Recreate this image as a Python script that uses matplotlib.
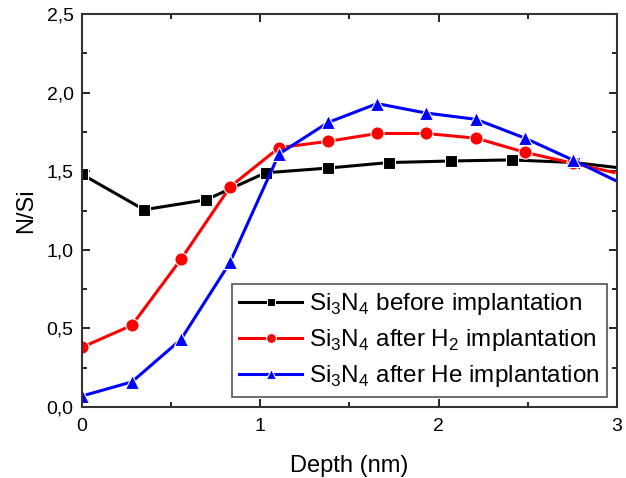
import numpy as np
import matplotlib.pyplot as plt
from matplotlib.ticker import MultipleLocator, FuncFormatter

plt.rcParams['font.family'] = ['Liberation Sans', 'DejaVu Sans']
plt.rcParams['mathtext.fontset'] = 'custom'
plt.rcParams['mathtext.rm'] = 'Liberation Sans'

# Si3N4 before implantation
x_before = [0.0, 0.348, 0.695, 1.03, 1.38, 1.72, 2.07, 2.41, 2.76, 3.10]
y_before = [1.48, 1.255, 1.318, 1.49, 1.52, 1.555, 1.565, 1.572, 1.555, 1.51]

# Si3N4 after H2 implantation
x_h2 = [0.0, 0.28, 0.555, 0.83, 1.105, 1.38, 1.655, 1.93, 2.21, 2.485, 2.755, 3.03]
y_h2 = [0.38, 0.52, 0.94, 1.40, 1.65, 1.69, 1.74, 1.74, 1.71, 1.62, 1.55, 1.48]

# Si3N4 after He implantation
x_he = [0.0, 0.28, 0.555, 0.83, 1.105, 1.38, 1.655, 1.93, 2.21, 2.485, 2.755, 3.03]
y_he = [0.07, 0.16, 0.43, 0.92, 1.61, 1.81, 1.93, 1.87, 1.83, 1.71, 1.57, 1.42]

labels = [r'Si$_3$N$_4$ before implantation',
          r'Si$_3$N$_4$ after H$_2$ implantation',
          r'Si$_3$N$_4$ after He implantation']

fig = plt.figure(figsize=(6.26, 4.78), dpi=100)
ax = fig.add_axes([0.131, 0.1485, 0.8546, 0.8222])

ax.plot(x_before, y_before, '-s', color='black', lw=2.2, ms=8.5, mec='white', mew=0.8, label=labels[0])
ax.plot(x_h2, y_h2, '-o', color='red', lw=2.2, ms=9.5, mec='white', mew=0.8, label=labels[1])
ax.plot(x_he, y_he, '-^', color='blue', lw=2.2, ms=10.5, mec='white', mew=0.8, label=labels[2])

ax.set_xlim(0, 3)
ax.set_ylim(0, 2.5)
ax.xaxis.set_major_locator(MultipleLocator(1))
ax.xaxis.set_minor_locator(MultipleLocator(0.5))
ax.yaxis.set_major_locator(MultipleLocator(0.5))
ax.yaxis.set_minor_locator(MultipleLocator(0.25))
ax.yaxis.set_major_formatter(FuncFormatter(lambda v, p: f'{v:.1f}'.replace('.', ',')))
ax.xaxis.set_major_formatter(FuncFormatter(lambda v, p: f'{v:g}'))
ax.tick_params(which='both', direction='in', top=True, right=True, labelsize=14, width=1.2)
ax.tick_params(axis='x', pad=8)
ax.tick_params(axis='y', pad=6)
ax.tick_params(which='major', length=6)
ax.tick_params(which='minor', length=3.5)
for s in ax.spines.values():
    s.set_linewidth(1.5)
    s.set_color('#333333')

ax.set_xlabel('Depth (nm)', fontsize=17, labelpad=14)
ax.set_ylabel('N/Si', fontsize=17, labelpad=7)

leg = ax.legend(loc='lower right', bbox_to_anchor=(0.985, 0.02), fontsize=17.5,
                fancybox=False, framealpha=1, edgecolor='#555555', markerscale=0.75,
                handlelength=2.6, borderpad=0.3, labelspacing=0.42, handletextpad=0.25,
                borderaxespad=0.1)
leg.get_frame().set_linewidth(1.2)

fig.savefig('out.png', dpi=100)
